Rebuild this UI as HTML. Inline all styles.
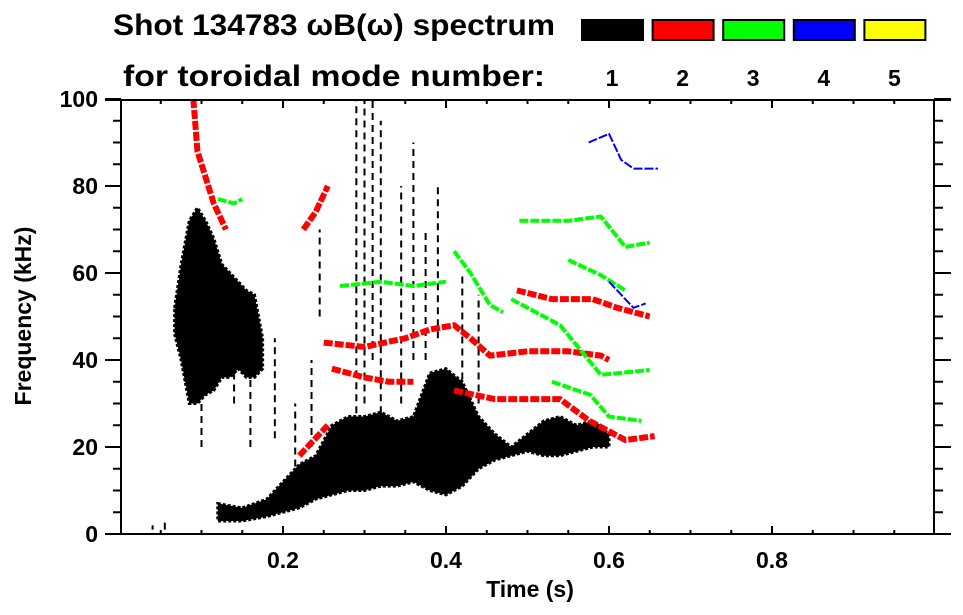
<!DOCTYPE html>
<html><head><meta charset="utf-8"><style>
html,body{margin:0;padding:0;background:#fff;}
svg{display:block;font-family:"Liberation Sans",Arial,sans-serif;font-weight:bold;}
</style></head><body>
<svg id="chart" width="963" height="615" viewBox="0 0 963 615">
<text x="113" y="35" font-size="30" textLength="442" lengthAdjust="spacingAndGlyphs">Shot 134783 ωB(ω) spectrum</text>
<text x="123" y="86" font-size="30" textLength="422" lengthAdjust="spacingAndGlyphs">for toroidal mode number:</text>
<g id="legend"></g>
<g id="marks"></g>
<g id="axes"></g>
<text x="530" y="597" font-size="23" text-anchor="middle">Time (s)</text>
<text transform="translate(31,316) rotate(-90)" font-size="23" text-anchor="middle">Frequency (kHz)</text>
</svg>
<script>
const modeLabels = ["1","2","3","4","5"];
const modeColors = ["#000000","#ff0000","#00ff00","#0000ff","#ffff00"];
const xTicks = [0.2,0.4,0.6,0.8];
const yTicks = [0,20,40,60,80,100];
// mode 1 broadband blobs
const blobA_t = [0.067,0.075,0.085,0.095,0.105,0.115,0.125,0.135,0.145,0.155,0.165,0.175];
const blobA_hi = [52,62,72,75,72,68,62,60,58,56,55,45];
const blobA_lo = [46,40,30,30,32,33,36,36,38,36,36,38];
const blobB_t = [0.12,0.15,0.18,0.2,0.22,0.24,0.26,0.28,0.3,0.32,0.34,0.36,0.38,0.4,0.42,0.44,0.46,0.48,0.5,0.52,0.54,0.56,0.58,0.6];
const blobB_lo = [3,3,4,5,6,8,9,10,10,11,11,12,10,9,11,15,17,18,19,18,18,19,20,20];
const blobB_hi = [7,6,8,12,16,18,25,27,27,28,26,27,37,38,35,27,23,20,23,26,27,25,26,23];
const streakT = [0.04,0.055,0.08,0.1,0.14,0.16,0.19,0.215,0.235,0.245,0.29,0.3,0.31,0.32,0.345,0.36,0.375,0.39,0.42,0.44];
const streakLo = [1,1,35,20,30,20,22,10,20,50,25,30,40,25,30,40,40,45,30,30];
const streakHi = [2,3,48,40,50,40,45,30,40,70,100,100,100,95,80,90,70,80,60,55];
// mode 2..4 traces [t,f]
const mode2 = [
 [[0.09,100],[0.095,88],[0.105,82],[0.115,76],[0.13,70]],
 [[0.225,70],[0.24,74],[0.255,80]],
 [[0.25,44],[0.3,43],[0.35,45],[0.38,47],[0.41,48],[0.43,45],[0.454,41],[0.5,42],[0.55,42],[0.59,41],[0.6,40]],
 [[0.26,38],[0.3,36],[0.33,35],[0.36,35]],
 [[0.41,33],[0.46,31],[0.54,31],[0.576,26],[0.62,21.6],[0.656,22.5]],
 [[0.487,56],[0.53,54],[0.58,54],[0.61,52],[0.65,50]],
 [[0.22,18],[0.24,22],[0.255,25]]
];
const mode3 = [
 [[0.12,77],[0.14,76],[0.15,77]],
 [[0.27,57],[0.32,58],[0.36,57],[0.4,58]],
 [[0.41,65],[0.43,60],[0.454,52.6],[0.47,51]],
 [[0.49,72],[0.55,72],[0.59,73],[0.62,66],[0.65,67]],
 [[0.55,63],[0.59,59.5],[0.62,56]],
 [[0.48,54],[0.54,48],[0.59,36.6],[0.65,37.7]],
 [[0.53,35],[0.577,32],[0.6,27],[0.64,26]]
];
const mode4 = [
 [[0.575,90],[0.6,92],[0.615,86],[0.63,84],[0.66,84]],
 [[0.6,58],[0.615,55],[0.63,52],[0.645,53]]
];
const X = t => 120 + 815*t;
const Y = f => 534 - 4.35*f;
const NS = "http://www.w3.org/2000/svg";
function mk(tag, attrs, parent){const e=document.createElementNS(NS,tag);for(const k in attrs)e.setAttribute(k,attrs[k]);parent.appendChild(e);return e;}
const leg = document.getElementById('legend');
modeLabels.forEach((m,i)=>{
  const x = 582 + i*70.6;
  const r = mk('rect',{x:x,y:20,width:61,height:20,fill:modeColors[i],stroke:'#000','stroke-width':2},leg);
  
  
  const t = mk('text',{x:x+30,y:86,'font-size':23,'text-anchor':'middle'},leg);
  t.textContent = m;
  
  
});
const marks = document.getElementById('marks');
function band(ts,lo,hi,name){
  let d='M'+ts.map((t,i)=>X(t)+','+Y(hi[i])).join('L');
  for(let i=ts.length-1;i>=0;i--) d+='L'+X(ts[i])+','+Y(lo[i]);
  const p = mk('path',{d:d+'Z',fill:'#000',stroke:'#000','stroke-width':3,'stroke-dasharray':'3 2'},marks);
  
  
}
band(blobA_t,blobA_lo,blobA_hi,'mode-1-blob-early');
band(blobB_t,blobB_lo,blobB_hi,'mode-1-blob-low');
streakT.forEach((t,i)=>{
  const l = mk('line',{x1:X(t),x2:X(t),y1:Y(streakLo[i]),y2:Y(streakHi[i]),stroke:'#000','stroke-width':2,'stroke-dasharray':'7 5'},marks);
  
  
});
function traces(arr,color,name,w){
  arr.forEach(tr=>{
    const p = mk('polyline',{points:tr.map(p=>X(p[0])+','+Y(p[1])).join(' '),fill:'none',stroke:color,'stroke-width':w,'stroke-linejoin':'round','stroke-dasharray':'9 2'},marks);
    
    
  });
}
traces(mode2,'#ff0000','mode-2-trace',6);
traces(mode3,'#00ff00','mode-3-trace',4);
traces(mode4,'#0000ff','mode-4-trace',2);
const ax = document.getElementById('axes');
mk('rect',{x:121,y:100,width:813,height:434,fill:'none',stroke:'#000','stroke-width':2},ax);
mk('line',{x1:105,x2:951,y1:534,y2:534,stroke:'#000','stroke-width':2},ax);
mk('line',{x1:105,x2:951,y1:100,y2:100,stroke:'#000','stroke-width':2},ax);
for(let k=1;k<20;k++){const t=k*0.05;const major=(k%4===0);
  mk('line',{x1:X(t),x2:X(t),y1:534,y2:major?526:530,stroke:'#000','stroke-width':2},ax);
  mk('line',{x1:X(t),x2:X(t),y1:100,y2:major?108:104,stroke:'#000','stroke-width':2},ax);}
for(let f=0;f<=100;f+=5){const major=(f%20===0);
  mk('line',{x1:major?105:113,x2:121,y1:Y(f),y2:Y(f),stroke:'#000','stroke-width':2},ax);
  mk('line',{x1:934,x2:major?951:943,y1:Y(f),y2:Y(f),stroke:'#000','stroke-width':2},ax);}
xTicks.forEach(t=>{const e=mk('text',{x:X(t),y:568,'font-size':23,'text-anchor':'middle'},ax);e.textContent=t.toFixed(1);
  
  });
yTicks.forEach(f=>{const e=mk('text',{x:98,y:Y(f)+8,'font-size':23,'text-anchor':'end'},ax);e.textContent=f;
  
  });
</script>
</body></html>
